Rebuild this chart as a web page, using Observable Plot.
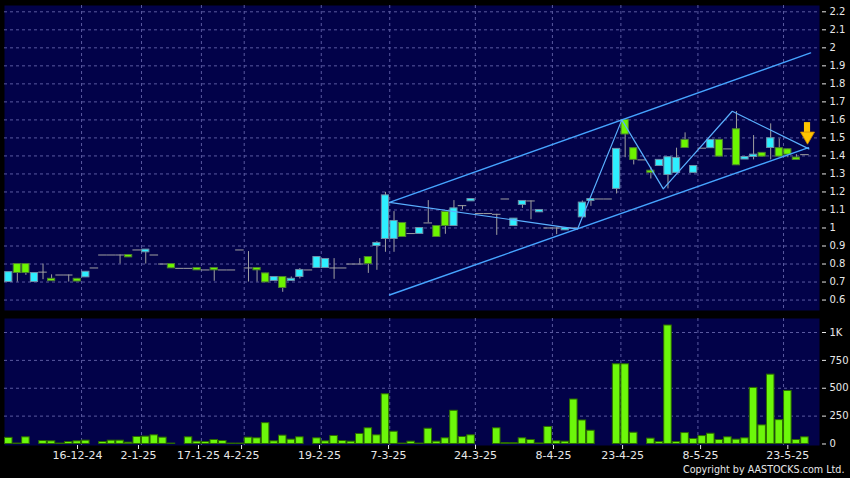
<!DOCTYPE html>
<html><head><meta charset="utf-8">
<script src="https://cdn.jsdelivr.net/npm/d3@7"></script>
<script src="https://cdn.jsdelivr.net/npm/@observablehq/plot@0.6"></script>
<style>
html,body{margin:0;padding:0;background:#000;}
#chart{width:850px;height:478px;overflow:hidden;background:#000;}
#chart svg{display:block;}
</style></head>
<body><div id="chart"></div>
<script>
// ---- data (index = trading-day position) ----
const opens = [.700,.800,.800,.700,.755,.718,.739,.739,.718,.726,
 .778,.850,.850,.850,.850,.878,.865,.850,.800,.800,
 .776,.776,.778,.767,.778,.767,.767,.878,.778,.778,
 .748,.706,.728,.706,.728,.767,.778,.778,.778,.778,
 .800,.800,.839,.900,.939,.939,1.028,.969,.967,1.028,
 1.011,1.089,1.011,1.124,1.148,1.080,1.080,1.076,1.161,1.011,
 1.128,1.150,1.087,1.000,1.000,.987,1.000,1.059,1.150,1.161,
 1.161,1.217,1.600,1.443,1.378,1.318,1.344,1.294,1.306,1.489,
 1.306,1.443,1.443,1.489,1.439,1.548,1.380,1.394,1.417,1.444,
 1.443,1.437,1.391,1.407];
const highs = [.755,.800,.800,.750,.800,.740,.739,.739,.718,.757,
 .778,.850,.850,.850,.850,.878,.880,.850,.800,.800,
 .776,.776,.778,.767,.778,.767,.767,.878,.869,.778,
 .748,.728,.728,.728,.775,.767,.839,.828,.830,.778,
 .800,.830,.839,.924,1.198,1.091,1.028,.969,1.000,1.152,
 1.011,1.089,1.152,1.124,1.161,1.080,1.080,1.076,1.161,1.052,
 1.150,1.150,1.100,1.000,1.000,1.000,1.000,1.150,1.161,1.161,
 1.161,1.439,1.600,1.443,1.378,1.337,1.378,1.393,1.443,1.528,
 1.344,1.443,1.489,1.489,1.439,1.646,1.394,1.513,1.417,1.578,
 1.494,1.437,1.407,1.407];
const lows = [.700,.700,.737,.700,.713,.705,.739,.700,.703,.726,
 .778,.850,.850,.800,.837,.878,.800,.850,.800,.776,
 .776,.776,.765,.767,.704,.767,.767,.878,.700,.700,
 .698,.706,.643,.706,.717,.767,.778,.778,.715,.778,
 .800,.800,.748,.765,.865,.865,.950,.969,.967,1.028,
 .950,.965,1.011,1.102,1.148,1.080,1.080,.959,1.161,1.011,
 1.109,1.046,1.087,1.000,.963,.987,1.000,1.059,1.120,1.161,
 1.161,1.189,1.390,1.350,1.378,1.272,1.344,1.217,1.306,1.444,
 1.306,1.443,1.443,1.396,1.439,1.348,1.380,1.378,1.396,1.378,
 1.396,1.390,1.378,1.407];
const closes = [.755,.750,.750,.750,.755,.705,.739,.739,.703,.757,
 .778,.850,.850,.850,.837,.878,.880,.850,.800,.776,
 .776,.776,.765,.767,.765,.767,.767,.878,.778,.765,
 .698,.728,.667,.718,.767,.767,.839,.828,.778,.778,
 .800,.800,.800,.917,1.181,1.039,.950,.969,1.000,1.028,
 .950,1.011,1.109,1.124,1.161,1.080,1.080,1.076,1.161,1.052,
 1.150,1.150,1.100,1.000,1.000,1.000,1.000,1.141,1.161,1.161,
 1.161,1.439,1.519,1.378,1.378,1.306,1.378,1.393,1.389,1.444,
 1.344,1.443,1.489,1.396,1.439,1.348,1.394,1.407,1.396,1.498,
 1.396,1.407,1.378,1.407];
const volumes = [55,4,60,0,27,24,4,18,24,30,
 0,18,30,30,12,63,66,78,57,4,
 0,60,21,18,36,27,4,4,57,51,
 187,24,75,39,60,0,51,24,72,27,
 21,90,141,78,446,110,4,21,4,137,
 21,51,298,63,78,0,0,141,8,8,
 51,36,5,153,24,21,399,211,119,0,
 0,715,715,101,0,48,18,1063,18,98,
 45,71,92,36,60,39,51,503,167,622,
 214,476,36,60];

const tickLabels = ["16-12-24","2-1-25","17-1-25","4-2-25","19-2-25","7-3-25","24-3-25","8-4-25","23-4-25","8-5-25","23-5-25"];
const tickIdx    = [8.03, 15.15, 22.16, 27.19, 36.3, 44.36, 54.52, 63.63, 71.7, 80.81, 91.0];
const gridIdx    = [8.5, 15.5, 22.5, 27.5, 36.5, 44.5, 54.5, 63.5, 71.5, 80.5, 90.5];
const priceTicks = [0.6,0.7,0.8,0.9,1.0,1.1,1.2,1.3,1.4,1.5,1.6,1.7,1.8,1.9,2.0,2.1,2.2];
const volTicks   = [0,250,500,750,1000];

// trend lines drawn on the reference (index, price)
const upperChannel = [{i:44.47,p:1.142},{i:93.66,p:1.972}];
const lowerChannel = [{i:44.47,p:0.628},{i:93.42,p:1.446}];
const zigzag = [{i:44.47,p:1.142},{i:66.44,p:0.994},{i:71.61,p:1.600},{i:76.45,p:1.217},{i:84.51,p:1.648},{i:93.46,p:1.439}];
const arrowMark = [{i:93.3, top:1.585, neck:1.53, head:1.51}];
const copyright = ["Copyright by AASTOCKS.com Ltd."];

// ---- styling ----
const BG = "#020249", GRID = "#5a5aa0", TXT = "#e8e8e8";
const CYAN = "#2eefff", GREEN = "#6cf500", WICK = "#a0a0a0";
const LINE = "#46a4ff";

const candles = opens.map((o,i)=>({i, o, h:highs[i], l:lows[i], c:closes[i], v:volumes[i]}));
const ups = candles.filter(d=>d.c>d.o), downs = candles.filter(d=>d.c<d.o), flats = candles.filter(d=>d.c===d.o);
const labelAt = new Map(tickIdx.map((p,k)=>[p,tickLabels[k]]));
const xDomain = [-0.5, 94.7];
const common = {width:850, marginLeft:4, marginRight:31,
  style:{background:"transparent", color:TXT, fontFamily:"DejaVu Sans", fontSize:"10px"}};

const price = Plot.plot({
  ...common, height:312, marginTop:5, marginBottom:2,
  x:{domain:xDomain, axis:null},
  y:{domain:[0.542, 2.235], label:null},
  marks:[
    Plot.frame({fill:BG, stroke:null}),
    Plot.gridY(priceTicks, {stroke:GRID, strokeOpacity:1, strokeDasharray:"3,3"}),
    Plot.gridX(gridIdx, {stroke:GRID, strokeOpacity:1, strokeDasharray:"3,3"}),
    Plot.ruleX(candles.filter(d=>d.h>d.l), {x:"i", y1:"l", y2:"h", stroke:WICK}),
    Plot.ruleY(flats, {y:"c", x1:d=>d.i-0.5, x2:d=>d.i+0.5, stroke:WICK}),
    Plot.rect(ups, {x1:d=>d.i-0.42, x2:d=>d.i+0.42, y1:"o", y2:"c", fill:CYAN, stroke:"#6c90a8"}),
    Plot.rect(downs, {x1:d=>d.i-0.42, x2:d=>d.i+0.42, y1:"o", y2:"c", fill:GREEN, stroke:"#4d8030"}),
    Plot.line(upperChannel, {x:"i", y:"p", stroke:LINE, strokeWidth:1.4}),
    Plot.line(lowerChannel, {x:"i", y:"p", stroke:LINE, strokeWidth:1.4}),
    Plot.line(zigzag, {x:"i", y:"p", stroke:"#5ab0ff", strokeWidth:1.2}),
    Plot.rect(arrowMark, {x1:d=>d.i-0.36, x2:d=>d.i+0.36, y1:"neck", y2:"top", fill:"#ffc400"}),
    Plot.dot(arrowMark, {x:"i", y:"head", symbol:"triangle", r:5.2, rotate:180, fill:"#ffc400", stroke:"#d08a00", strokeWidth:0.8}),
    Plot.axisY(priceTicks, {anchor:"right", label:null, tickSize:4, tickPadding:4, dx:2, fontSize:10,
      tickFormat:d=>String(+d.toFixed(1))})
  ]
});

const volume = Plot.plot({
  ...common, height:166, marginTop:6, marginBottom:33,
  x:{domain:xDomain, label:null},
  y:{domain:[-13.5, 1125.6], label:null},
  marks:[
    Plot.frame({fill:BG, stroke:null}),
    Plot.gridY([250,500,750,1000], {stroke:GRID, strokeOpacity:1, strokeDasharray:"3,3"}),
    Plot.gridX(gridIdx, {stroke:GRID, strokeOpacity:1, strokeDasharray:"3,3"}),
    Plot.rect(candles.filter(d=>d.v>0), {x1:d=>d.i-0.44, x2:d=>d.i+0.44, y1:0, y2:"v", fill:"#6cf70a", stroke:"#2c6a00"}),
    Plot.axisY(volTicks, {anchor:"right", label:null, tickSize:4, tickPadding:4, dx:2, fontSize:10,
      tickFormat:d=>d===1000?"1K":String(d)}),
    Plot.axisX(tickIdx, {anchor:"bottom", label:null, tickSize:4, tickPadding:2, dy:0, fontSize:11,
      tickFormat:d=>labelAt.get(d)}),
    Plot.text(copyright, {frameAnchor:"bottom-right", textAnchor:"end", dx:25, dy:27, fontSize:9.6, fill:TXT})
  ]
});

const root = document.getElementById("chart");
root.append(price, volume);
</script>
</body></html>
